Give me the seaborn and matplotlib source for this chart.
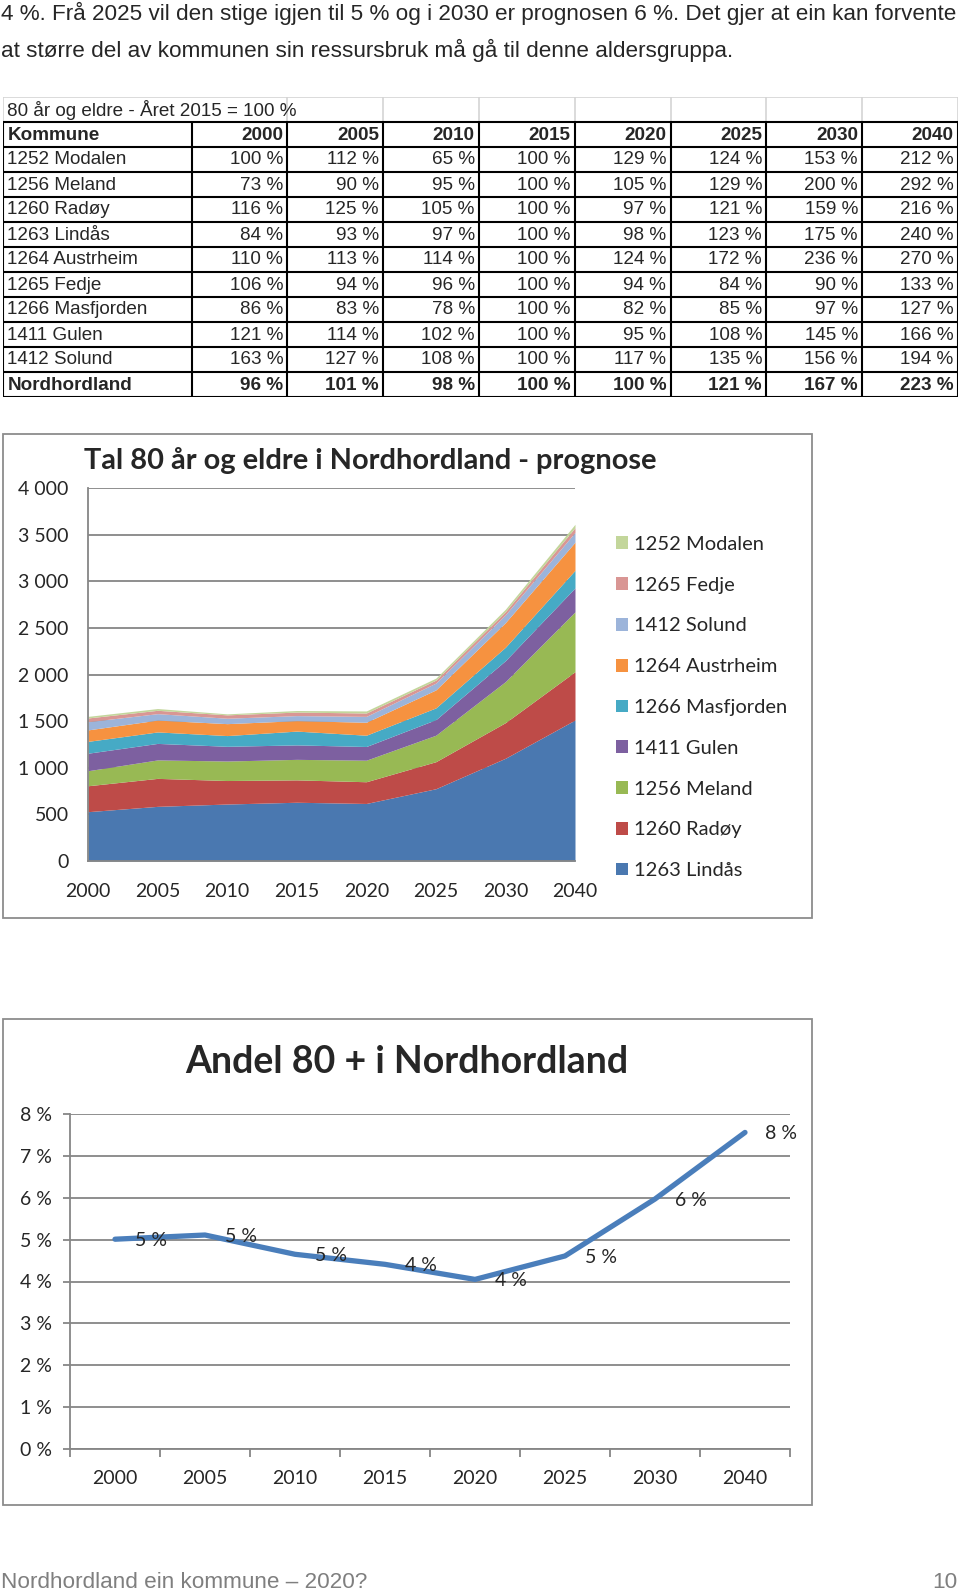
import numpy as np
import pandas as pd
import seaborn as sns
import matplotlib.pyplot as plt
from matplotlib.patches import Patch, Rectangle
from matplotlib.ticker import FuncFormatter, FixedLocator


################################################################################

W, H = 960, 1591

YEARS = ["2000", "2005", "2010", "2015", "2020", "2025", "2030", "2040"]

INTRO = [
    "4 %. Frå 2025 vil den stige igjen til 5 % og i 2030 er prognosen 6 %. Det gjer at ein kan forvente",
    "at større del av kommunen sin ressursbruk må gå til denne aldersgruppa.",
]
FOOTER_LEFT = "Nordhordland ein kommune – 2020?"
FOOTER_RIGHT = "10"

TABLE_TITLE = "80 år og eldre - Året 2015 = 100 %"
TABLE_HEAD = "Kommune"
TABLE_NAMES = ["1252 Modalen", "1256 Meland", "1260 Radøy", "1263 Lindås",
               "1264 Austrheim", "1265 Fedje", "1266 Masfjorden", "1411 Gulen",
               "1412 Solund", "Nordhordland"]
TABLE_PCT = [
    [100, 112, 65, 100, 129, 124, 153, 212],
    [73, 90, 95, 100, 105, 129, 200, 292],
    [116, 125, 105, 100, 97, 121, 159, 216],
    [84, 93, 97, 100, 98, 123, 175, 240],
    [110, 113, 114, 100, 124, 172, 236, 270],
    [106, 94, 96, 100, 94, 84, 90, 133],
    [86, 83, 78, 100, 82, 85, 97, 127],
    [121, 114, 102, 100, 95, 108, 145, 166],
    [163, 127, 108, 100, 117, 135, 156, 194],
    [96, 101, 98, 100, 100, 121, 167, 223],
]

# stacked area, bottom to top
AREA_TITLE = "Tal 80 år og eldre i Nordhordland - prognose"
AREA_NAMES = ["1263 Lindås", "1260 Radøy", "1256 Meland", "1411 Gulen",
              "1266 Masfjorden", "1264 Austrheim", "1412 Solund", "1265 Fedje",
              "1252 Modalen"]
LINDAS = [529, 586, 611, 630, 617, 775, 1102, 1512]
RADOY = [278, 300, 252, 240, 233, 290, 382, 518]
MELAND = [161, 198, 209, 220, 231, 284, 440, 642]
GULEN = [188, 177, 158, 155, 147, 167, 225, 257]
MASFJORDEN = [127, 123, 115, 148, 121, 126, 144, 188]
AUSTRHEIM = [123, 127, 128, 112, 139, 193, 264, 302]
SOLUND = [88, 69, 58, 54, 63, 73, 84, 105]
FEDJE = [40, 36, 36, 38, 36, 32, 34, 51]
MODALEN = [17, 19, 11, 17, 22, 21, 26, 36]
AREA_COLORS = ["#4A78B0", "#BE4B48", "#98B954", "#7D60A0", "#46AAC5",
               "#F69240", "#9CB4DA", "#D99694", "#C3D69B"]

LINE_TITLE = "Andel 80 + i Nordhordland"
ANDEL = [5.01, 5.11, 4.65, 4.41, 4.05, 4.61, 5.97, 7.56]

BODY_FONT = ["Liberation Sans", "DejaVu Sans"]
CHART_FONT = ["Lato", "DejaVu Sans"]
GRID = "#868686"


def rect(x0, y0, x1, y1):
  return [x0 / W, 1 - y1 / H, (x1 - x0) / W, (y1 - y0) / H]


def box(fig, x0, y0, x1, y1):
  fig.add_artist(Rectangle((x0 / W, 1 - y1 / H), (x1 - x0) / W, (y1 - y0) / H,
                           transform=fig.transFigure, fill=False,
                           edgecolor="#8C8C8C", lw=1.3))


def drawTable(fig):
  ax = fig.add_axes(rect(3, 97, 958, 397))
  widths = [1.97] + [1.0] * len(YEARS)
  edges = np.concatenate([[0], np.cumsum(widths)])
  nrows = len(TABLE_NAMES) + 2
  ax.set_xlim(0, edges[-1])
  ax.set_ylim(nrows, 0)
  ax.axis("off")

  # title row: light grey grid
  ax.hlines(0, 0, edges[-1], color="#D4D4D4", lw=1.2)
  ax.vlines([edges[0]] + list(edges[2:]), 0, 1, color="#D4D4D4", lw=1.2)
  # table body: black grid
  ax.hlines(np.arange(1, nrows + 1), 0, edges[-1], color="black", lw=1.5)
  ax.vlines(edges, 1, nrows, color="black", lw=1.5)

  kw = dict(family=BODY_FONT, fontsize=13.6, va="center")
  pad = 0.045
  ax.text(pad, 0.52, TABLE_TITLE, ha="left", **kw)
  ax.text(pad, 1.52, TABLE_HEAD, ha="left", weight="bold", **kw)
  for j, y in enumerate(YEARS):
    ax.text(edges[j + 2] - pad, 1.52, y, ha="right", weight="bold", **kw)
  for i, name in enumerate(TABLE_NAMES):
    wt = "bold" if i == len(TABLE_NAMES) - 1 else "normal"
    ax.text(pad, i + 2.52, name, ha="left", weight=wt, **kw)
    for j, v in enumerate(TABLE_PCT[i]):
      ax.text(edges[j + 2] - pad, i + 2.52, f"{v} %", ha="right", weight=wt, **kw)


def drawArea(fig):
  box(fig, 3, 434, 812, 918)
  ax = fig.add_axes(rect(88, 488, 575, 861))
  x = np.arange(len(YEARS))
  series = [LINDAS, RADOY, MELAND, GULEN, MASFJORDEN, AUSTRHEIM, SOLUND, FEDJE, MODALEN]
  ax.set_axisbelow(True)
  ax.stackplot(x, *series, colors=AREA_COLORS, lw=0, zorder=2)
  ax.set_xlim(0, len(YEARS) - 1)
  ax.set_ylim(0, 4000)
  ax.set_yticks(np.arange(0, 4001, 500))
  ax.yaxis.set_major_formatter(FuncFormatter(lambda v, _: f"{int(v):,}".replace(",", " ")))
  ax.set_xticks(x)
  ax.set_xticklabels(YEARS)
  ax.yaxis.grid(True, color=GRID, lw=1.3)
  ax.xaxis.grid(False)
  sns.despine(ax=ax, top=True, right=True)
  ax.spines["left"].set_color(GRID)
  ax.spines["bottom"].set_color(GRID)
  ax.spines["left"].set_linewidth(1.3)
  ax.spines["bottom"].set_linewidth(1.3)
  ax.tick_params(axis="y", length=0, pad=14, labelsize=14)
  ax.tick_params(axis="x", length=0, pad=16, labelsize=14)
  for t in ax.get_xticklabels() + ax.get_yticklabels():
    t.set_family(CHART_FONT)

  fig.text(84 / W, 1 - 461 / H, AREA_TITLE, ha="left", va="center",
           fontsize=20.9, weight="bold", family=CHART_FONT)

  handles = [Patch(facecolor=c, edgecolor="none") for c in AREA_COLORS]
  fig.legend(handles[::-1], AREA_NAMES[::-1], loc="center left",
             bbox_to_anchor=(616 / W, 1 - 707.5 / H), frameon=False,
             borderpad=0, borderaxespad=0, handlelength=0.6, handleheight=0.6,
             handletextpad=0.3, labelspacing=1.18,
             prop=dict(family=CHART_FONT, size=14.5))


def drawLine(fig):
  box(fig, 3, 1019, 812, 1505)
  ax = fig.add_axes(rect(70, 1114, 790, 1449))
  df = pd.DataFrame({"pos": np.arange(len(YEARS)), "andel": ANDEL})
  ax.set_axisbelow(True)
  sns.lineplot(data=df, x="pos", y="andel", ax=ax, color="#4A7EBB",
               linewidth=3.8, zorder=3)
  ax.set_xlim(-0.5, len(YEARS) - 0.5)
  ax.set_ylim(0, 8)
  ax.set_yticks(np.arange(0, 9, 1))
  ax.yaxis.set_major_formatter(FuncFormatter(lambda v, _: f"{v:.0f} %"))
  ax.set_xticks(np.arange(len(YEARS)))
  ax.set_xticklabels(YEARS)
  ax.xaxis.set_minor_locator(FixedLocator(np.arange(-0.5, len(YEARS), 1.0)))
  ax.set_xlabel("")
  ax.set_ylabel("")
  ax.yaxis.grid(True, color=GRID, lw=1.3)
  ax.xaxis.grid(False)
  sns.despine(ax=ax, top=True, right=True)
  for s in ["left", "bottom"]:
    ax.spines[s].set_color(GRID)
    ax.spines[s].set_linewidth(1.3)
  ax.tick_params(axis="y", left=True, length=5, width=1.3, color=GRID, pad=8, labelsize=14)
  ax.tick_params(axis="x", which="major", bottom=True, length=0, pad=15, labelsize=14)
  ax.tick_params(axis="x", which="minor", bottom=True, length=6, width=1.3, color=GRID)
  for t in ax.get_xticklabels() + ax.get_yticklabels():
    t.set_family(CHART_FONT)

  for i, v in enumerate(ANDEL):
    ax.annotate(f"{v:.0f} %", (i, v), xytext=(14.5, -1), textcoords="offset points",
                ha="left", va="center", fontsize=14, family=CHART_FONT)

  fig.text(407 / W, 1 - 1062 / H, LINE_TITLE, ha="center", va="center",
           fontsize=27, weight="bold", family=CHART_FONT)


def main():
  sns.set_style("white")
  plt.rcParams["font.family"] = BODY_FONT

  fig = plt.figure(figsize=(W / 100, H / 100), dpi=100)
  fig.patch.set_facecolor("white")

  for k, line in enumerate(INTRO):
    fig.text(1 / W, 1 - (20 + 36.5 * k) / H, line, ha="left", va="baseline",
             fontsize=16.2, family=BODY_FONT)

  drawTable(fig)
  drawArea(fig)
  drawLine(fig)

  fig.text(1 / W, 1 - 1588 / H, FOOTER_LEFT, ha="left", va="baseline",
           fontsize=16.2, color="#7F7F7F", family=BODY_FONT)
  fig.text(957 / W, 1 - 1588 / H, FOOTER_RIGHT, ha="right", va="baseline",
           fontsize=16.2, color="#7F7F7F", family=BODY_FONT)

  fig.savefig("out.png", dpi=100, facecolor="white")


main()
